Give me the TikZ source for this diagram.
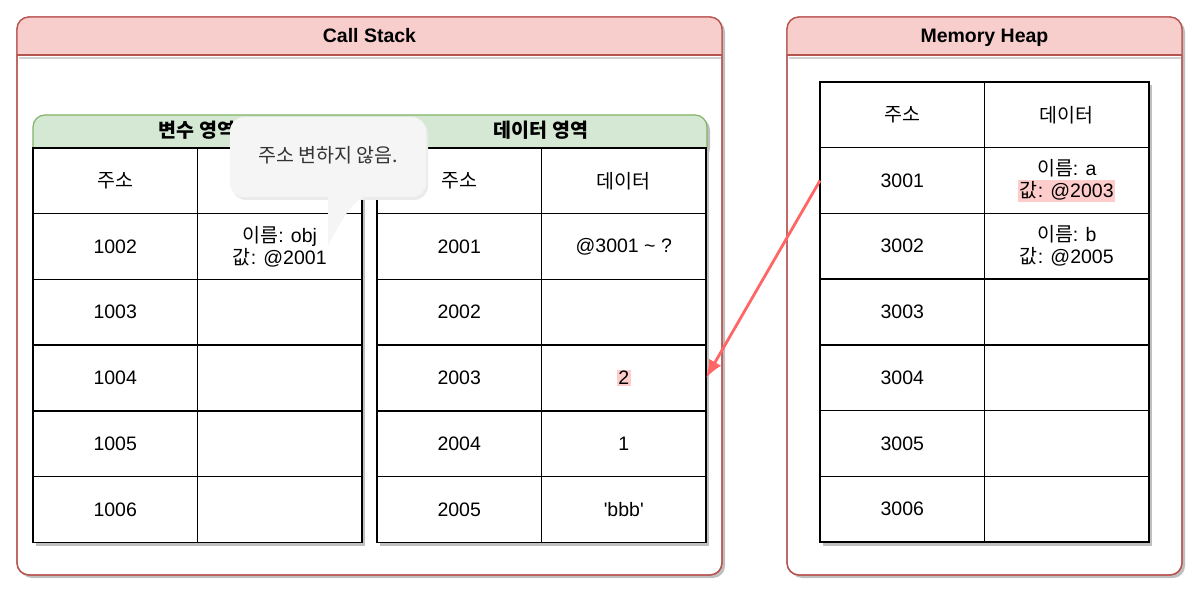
\documentclass[tikz,border=0pt]{standalone}
\usepackage{fontspec}
\setmainfont{Liberation Sans}
\newfontfamily\krfont{Noto Sans CJK KR}
\usepackage{xcolor}
\usetikzlibrary{arrows.meta,positioning}

\definecolor{stackred}{HTML}{B85450}
\definecolor{stackpink}{HTML}{F8CECC}
\definecolor{areagreen}{HTML}{82B366}
\definecolor{areafill}{HTML}{D5E8D4}
\definecolor{arrowred}{HTML}{FF6666}
\definecolor{notefill}{HTML}{F5F5F5}
\definecolor{notetext}{HTML}{333333}
\definecolor{hlpink}{HTML}{FFCCCC}

\newcommand{\hlmark}[1]{{\setlength{\fboxsep}{1.5pt}\colorbox{hlpink}{#1}}}

\begin{document}
\begin{tikzpicture}[x=1pt,y=-1pt,
	every node/.style={font=\fontsize{19.5}{22}\selectfont},
	container/.style={draw=stackred,line width=1.3pt,rounded corners=12},
	shade/.style={fill=black!25},
	cell/.style={draw,line width=1.4pt,fill=white,minimum width=164.5pt,minimum height=65.7pt,
		inner sep=0pt,outer sep=0pt,anchor=north west,align=center},
	title/.style={font=\fontsize{19.5}{22}\selectfont\bfseries,anchor=base},
	pointer/.style={-{Latex[length=18pt,width=14pt]},arrowred,line width=2.8pt}]
	\useasboundingbox (0,0) rectangle (1200,596);

	% call stack
	\fill[shade,rounded corners=12] (20,20) rectangle (725,578);
	\draw[container,fill=white] (17,17) rectangle (722,575);
	\begin{scope}
		\clip (17,17) rectangle (722,55);
		\fill[stackpink,rounded corners=12] (17,17) rectangle (722,575);
	\end{scope}
	\draw[container] (17,17) rectangle (722,575);
	\draw[black!18,line width=2pt] (19,58) -- (721,58);
	\draw[stackred,line width=1.3pt] (17,55) -- (722,55);
	\node[title] (stack) at (369.5,43) {Call Stack};

	% memory heap
	\fill[shade,rounded corners=12] (790,20) rectangle (1185,578);
	\draw[container,fill=white] (787,17) rectangle (1182,575);
	\begin{scope}
		\clip (787,17) rectangle (1182,55);
		\fill[stackpink,rounded corners=12] (787,17) rectangle (1182,575);
	\end{scope}
	\draw[container] (787,17) rectangle (1182,575);
	\draw[black!18,line width=2pt] (789,58) -- (1181,58);
	\draw[stackred,line width=1.3pt] (787,55) -- (1182,55);
	\node[title] (heap) at (984.5,43) {Memory Heap};

	% green area header
	\fill[shade,rounded corners=12] (36,118) rectangle (710,160);
	\begin{scope}
		\clip (30,112) rectangle (712,148);
		\filldraw[fill=areafill,draw=areagreen,line width=1.2pt,rounded corners=12] (33,115) rectangle (707,180);
	\end{scope}
	\node[title] (vararea) at (197,138) {\krfont\bfseries 변수 영역};
	\node[title] (dataarea) at (541,138) {\krfont\bfseries 데이터 영역};

	% table shadows
	\fill[shade] (36,151) rectangle (365,546);
	\fill[shade] (380,151) rectangle (709,546);
	\fill[shade] (823,85) rectangle (1152,546);

	% variable area
	\foreach \a/\b [count=\i] in {{\krfont 주소}/{},
		1002/{{\krfont 이름}: obj\\{\krfont 값}: @2001},
		1003/{},1004/{},1005/{},1006/{}}{
		\node[cell] (v-\i-1) at (33,{148+65.7*(\i-1)}) {\a};
		\node[cell,right=0pt of v-\i-1] (v-\i-2) {\b};
	}

	% data area
	\foreach \a/\b [count=\i] in {{\krfont 주소}/{\krfont 데이터},
		2001/{@3001 \textasciitilde\ ?},2002/{},2003/{\hlmark{2}},2004/1,
		2005/{\textquotesingle bbb\textquotesingle}}{
		\node[cell] (d-\i-1) at (377,{148+65.7*(\i-1)}) {\a};
		\node[cell,right=0pt of d-\i-1] (d-\i-2) {\b};
	}

	% heap
	\foreach \a/\b [count=\i] in {{\krfont 주소}/{\krfont 데이터},
		3001/{{\krfont 이름}: a\\\hlmark{{\krfont 값}: @2003}},
		3002/{{\krfont 이름}: b\\{\krfont 값}: @2005},
		3003/{},3004/{},3005/{},3006/{}}{
		\node[cell] (h-\i-1) at (820,{82+65.7*(\i-1)}) {\a};
		\node[cell,right=0pt of h-\i-1] (h-\i-2) {\b};
	}

	% callout
	\fill[black!8,rounded corners=14] (232,120) rectangle (428,200);
	\fill[notefill,rounded corners=14] (230,117) rectangle (426,197);
	\fill[notefill] (328,190) -- (328,245) .. controls (340,225) and (350,200) .. (368,196) -- cycle;
	\node[text=notetext] (note) at (328,155) {\krfont 주소 변하지 않음.};

	\draw[pointer] (h-2-1.west) -- (d-4-2.east);
\end{tikzpicture}
\end{document}
